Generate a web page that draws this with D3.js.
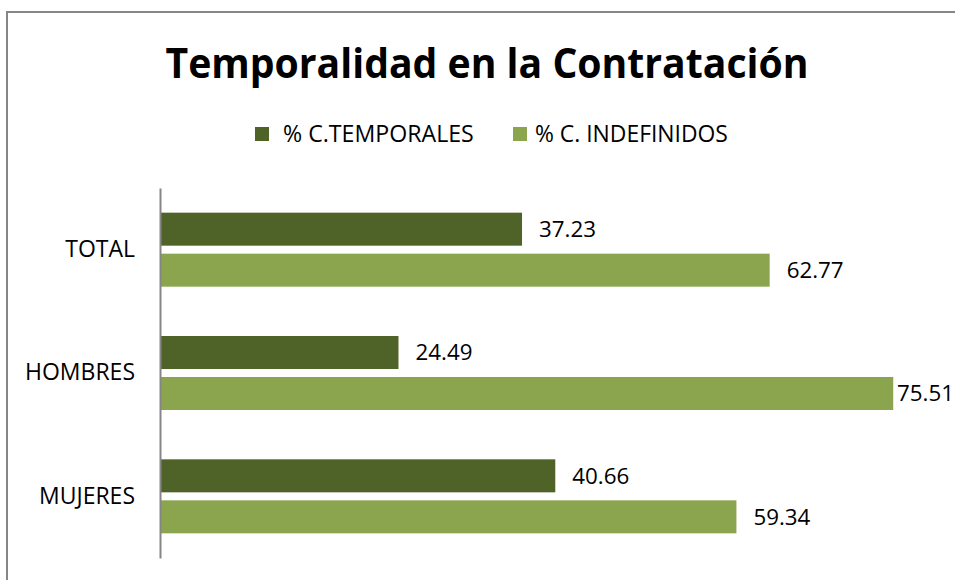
<!DOCTYPE html>
<html>
<head>
<meta charset="utf-8">
<script src="https://cdn.jsdelivr.net/npm/d3@7"></script>
<style>
  body { margin: 0; background: #fff; }
  text { font-family: "Open Sans", "Noto Sans", sans-serif; fill: #000; }
</style>
</head>
<body>
<div id="vis"></div>
<script>
var categories = ['TOTAL', 'HOMBRES', 'MUJERES'];
var seriesNames = ['% C.TEMPORALES', '% C. INDEFINIDOS'];
var temporales = [37.23, 24.49, 40.66];
var indefinidos = [62.77, 75.51, 59.34];

var width = 955;
var height = 580;
var colors = ['#4f6228', '#8ba54f'];

var svg = d3.select('#vis').append('svg')
  .attr('width', width)
  .attr('height', height);

// outer chart frame (right/bottom run off the page)
svg.append('rect')
  .attr('x', 7).attr('y', 12)
  .attr('width', 970).attr('height', 600)
  .attr('fill', 'none')
  .attr('stroke', '#868686')
  .attr('stroke-width', 2);

// shrink/grow font size so a text fits the width it has in the original
function fitWidth(sel, target) {
  sel.each(function () {
    var fs = parseFloat(d3.select(this).style('font-size'));
    var w = this.getComputedTextLength();
    d3.select(this).style('font-size', (fs * target / w) + 'px');
  });
}

// title: taller than Open Sans allows at this width, so squeeze it a bit
svg.append('text')
  .attr('x', 487)
  .attr('y', 78)
  .attr('text-anchor', 'middle')
  .attr('textLength', 643)
  .attr('lengthAdjust', 'spacingAndGlyphs')
  .style('font-size', '42px')
  .style('font-weight', 'bold')
  .text('Temporalidad en la Contratación');

// legend
var legendX = [255, 513];
var legend = svg.selectAll('.legend')
  .data(seriesNames)
  .enter().append('g')
  .attr('class', 'legend')
  .attr('transform', function (d, i) { return 'translate(' + legendX[i] + ',127)'; });

legend.append('rect')
  .attr('width', 14).attr('height', 14)
  .attr('fill', function (d, i) { return colors[i]; });

legend.append('text')
  .attr('x', function (d, i) { return i === 0 ? 28 : 22; })
  .attr('y', 7)
  .attr('dy', '0.35em')
  .style('font-size', '18px')
  .text(function (d) { return d; })
  .call(function (s) {
    s.each(function (d, i) { fitWidth(d3.select(this), i === 0 ? 191 : 193); });
  });

// scales
var x = d3.scaleLinear()
  .domain([0, 100])
  .range([161, 161 + 969.7]);

var y = d3.scaleBand()
  .domain(categories)
  .range([188, 558])
  .paddingInner(0)
  .paddingOuter(0);

var barH = 33;
var gap = 8;

var rows = categories.map(function (c, i) {
  return { cat: c, values: [temporales[i], indefinidos[i]] };
});

var groups = svg.selectAll('.group')
  .data(rows)
  .enter().append('g')
  .attr('class', 'group')
  .attr('transform', function (d) {
    return 'translate(0,' + (y(d.cat) + (y.bandwidth() - 2 * barH - gap) / 2) + ')';
  });

groups.selectAll('rect')
  .data(function (d) { return d.values; })
  .enter().append('rect')
  .attr('x', x(0))
  .attr('y', function (d, i) { return i * (barH + gap); })
  .attr('width', function (d) { return x(d) - x(0); })
  .attr('height', barH)
  .attr('fill', function (d, i) { return colors[i]; });

groups.selectAll('.val')
  .data(function (d) { return d.values; })
  .enter().append('text')
  .attr('class', 'val')
  .attr('y', function (d, i) { return i * (barH + gap) + barH / 2; })
  .attr('dy', '0.35em')
  .style('font-size', '19px')
  .text(function (d) { return d.toFixed(2); })
  .each(function (d) {
    fitWidth(d3.select(this), 57);
    var w = this.getComputedTextLength();
    d3.select(this).attr('x', Math.min(x(d) + 17, width - 1 - w));
  });

// category axis
var yAxis = svg.append('g')
  .attr('transform', 'translate(160,0)')
  .call(d3.axisLeft(y).tickSize(0).tickPadding(25));

yAxis.select('.domain')
  .attr('stroke', '#868686')
  .attr('stroke-width', 2);

yAxis.selectAll('text')
  .style('font-family', '"Open Sans", "Noto Sans", sans-serif')
  .style('font-size', '19px')
  .each(function (d) {
    if (d === 'HOMBRES') fitWidth(d3.select(this), 110);
  });

var hombresFs = yAxis.selectAll('text').filter(function (d) { return d === 'HOMBRES'; }).style('font-size');
yAxis.selectAll('text').style('font-size', hombresFs);
</script>
</body>
</html>
